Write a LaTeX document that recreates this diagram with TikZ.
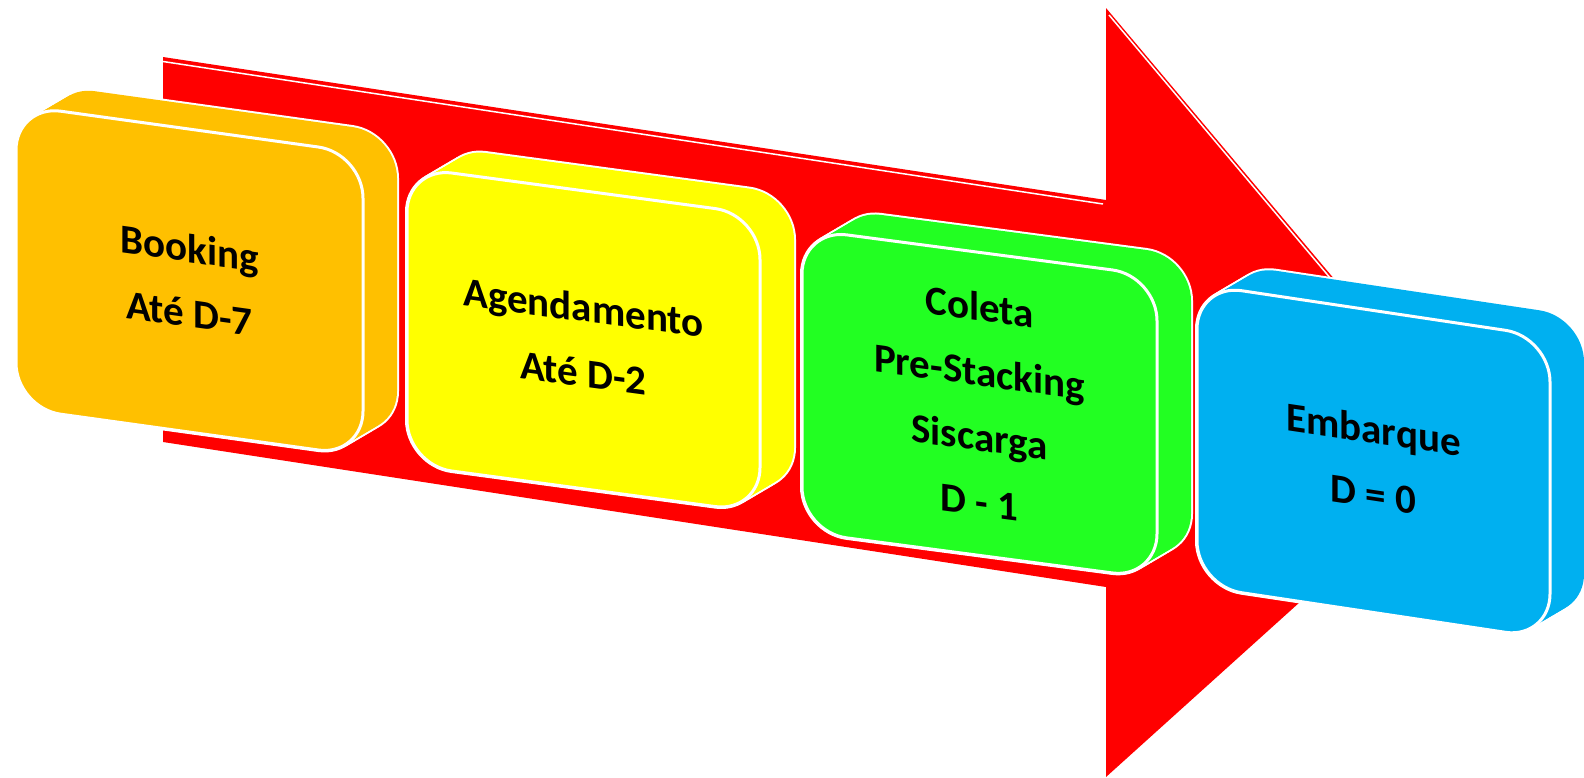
\documentclass[tikz,border=0pt]{standalone}
\usepackage{fontspec}
\setmainfont{Carlito}
\definecolor{cOrange}{HTML}{FFC000}
\definecolor{cYellow}{HTML}{FFFF00}
\definecolor{cGreen}{HTML}{22FF22}
\definecolor{cBlue}{HTML}{00B0F0}
\definecolor{cRed}{HTML}{FF0000}
% #1 cx, #2 cy, #3 slant, #4 w, #5 h, #6 colour
\newcommand\extrudebody[6]{%
  \foreach \t in {0,...,10}{
    \begin{scope}[shift={({#1+3.4*\t},{#2-2*\t})}, yslant=-#3]
      \draw[white, line width=4pt, rounded corners=45pt] ({-#4/2},{-#5/2}) rectangle ({#4/2},{#5/2});
    \end{scope}}
  \foreach \t in {0,...,10}{
    \begin{scope}[shift={({#1+3.4*\t},{#2-2*\t})}, yslant=-#3]
      \fill[#6, rounded corners=45pt] ({-#4/2},{-#5/2}) rectangle ({#4/2},{#5/2});
    \end{scope}}
}
\begin{document}
\begin{tikzpicture}[x=1pt,y=-1pt,
  face/.style={rectangle, draw=white, line width=3pt, rounded corners=45pt,
    align=center, text=black, inner sep=0pt, transform shape,
    font=\fontsize{41pt}{65pt}\selectfont\bfseries}]
\useasboundingbox (0,0) rectangle (1584,777);

% big arrow
\coordinate (A) at (163,57);
\coordinate (B) at (1106,200);
\coordinate (C) at (1106,8);
\coordinate (T) at (1474,445);
\coordinate (D) at (1106,777);
\coordinate (E) at (1106,587);
\coordinate (F) at (163,442);
\fill[cRed] (A) -- (B) -- (C) -- (T) -- (D) -- (E) -- (F) -- cycle;
\coordinate (A1) at (163,61.5);
\coordinate (B1) at (1103,204);
\coordinate (C1) at (1109,15);
\coordinate (T1) at (1400,361);
\draw[white, line width=1.5pt] (A1) -- (B1);
\draw[white, line width=1.5pt] (C1) -- (T1);

% box 1
\extrudebody{189.5}{280.6}{0.139}{347}{303}{cOrange}
\begin{scope}[shift={(189.5,280.6)}, yslant=-0.139]
  \node[face, fill=cOrange, minimum width=347pt, minimum height=303pt] (b1) at (0,0) {Booking\\Até D-7};
\end{scope}

% box 2
\extrudebody{583.5}{339.8}{0.135}{353}{298}{cYellow}
\begin{scope}[shift={(583.5,339.8)}, yslant=-0.135]
  \node[face, fill=cYellow, minimum width=353pt, minimum height=298pt] (b2) at (0,0) {Agendamento\\Até D-2};
\end{scope}

% box 3
\extrudebody{979.5}{403.9}{0.132}{355}{303}{cGreen}
\begin{scope}[shift={(979.5,403.9)}, yslant=-0.132]
  \node[face, fill=cGreen, minimum width=355pt, minimum height=303pt] (b3) at (0,0) {Coleta\\Pre-Stacking\\Siscarga\\D - 1};
\end{scope}

% box 4
\extrudebody{1373.5}{461.5}{0.15}{353}{302}{cBlue}
\begin{scope}[shift={(1373.5,461.5)}, yslant=-0.15]
  \node[face, fill=cBlue, minimum width=353pt, minimum height=302pt] (b4) at (0,0) {Embarque\\D = 0};
\end{scope}
\end{tikzpicture}
\end{document}
